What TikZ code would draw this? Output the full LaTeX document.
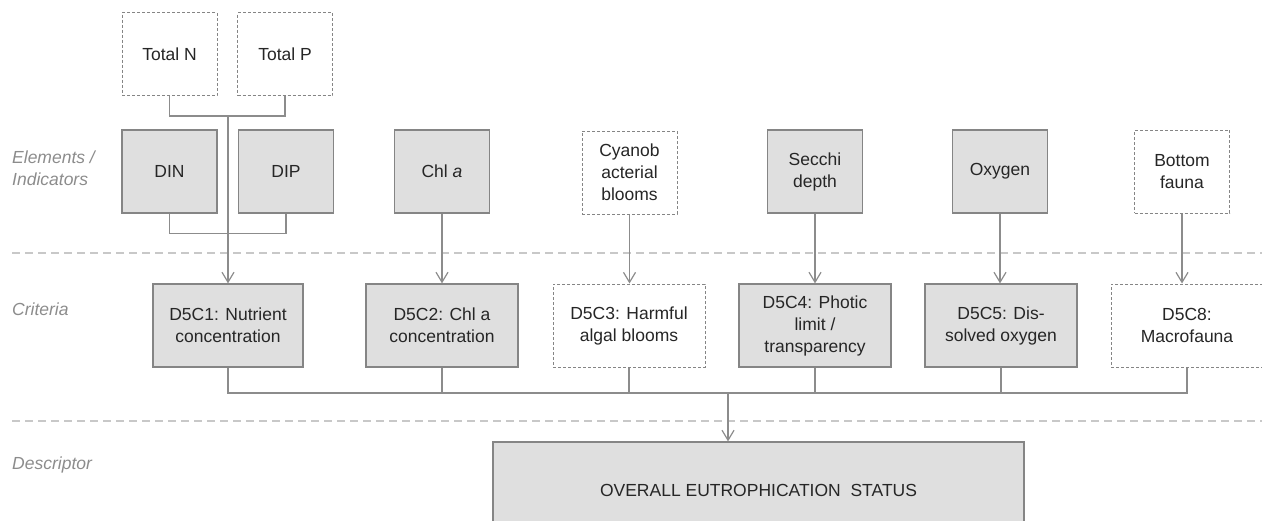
\documentclass[tikz,border=0pt]{standalone}
\usepackage{fontspec}
\setmainfont{Liberation Sans}
\usepackage{tikz}
\usetikzlibrary{arrows.meta}
\tikzset{>={Straight Barb[length=10pt,width=12pt]}}
\definecolor{boxfill}{HTML}{DFDFDF}
\definecolor{boxline}{HTML}{858585}
\definecolor{conn}{HTML}{8C8C8C}
\definecolor{sepline}{HTML}{C8C8C8}
\definecolor{lbltext}{HTML}{8C8C8C}
\definecolor{boxtext}{HTML}{262626}
\newcommand{\diagfont}{\fontsize{17.5}{22}\selectfont}
\tikzset{
  box/.style={draw=boxline, line width=1.2pt, fill=boxfill, text=boxtext,
    align=center, inner sep=0pt, minimum height=83pt},
  optbox/.style={box, fill=white, line width=1pt, dash pattern=on 3pt off 2pt},
  ind/.style={minimum width=95pt},
  crit/.style={minimum width=152pt},
  lbl/.style={text=lbltext, font=\diagfont\itshape, anchor=west, align=left, inner sep=0pt},
  sep/.style={draw=sepline, line width=1.2pt, dash pattern=on 8pt off 5pt},
  link/.style={draw=conn, line width=1.2pt},
}

\begin{document}
\begin{tikzpicture}[x=1pt, y=-1pt, font=\diagfont]
    \useasboundingbox (0,0) rectangle (1262,520);

    \node[lbl] (LBL-EL) at (12,168) {Elements /\\Indicators};
    \node[lbl] (LBL-CR) at (12,309) {Criteria};
    \node[lbl] (LBL-DE) at (12,465) {Descriptor};

    \draw[sep] (12,253) -- (1262,253);
    \draw[sep] (12,421) -- (1262,421);

    \node[optbox, ind] (TOT-N) at (169.5,54) {Total N};
    \node[optbox, ind] (TOT-P) at (285,54) {Total P};
    \node[box, ind] (DIN) at (169.5,171.5) {DIN};
    \node[box, ind] (DIP) at (286,171.5) {DIP};
    \node[box, ind] (CHL) at (442,171.5) {Chl \textit{a}};
    \node[optbox, ind] (CYANO) at (629.5,172.5) {Cyanob\\acterial\\blooms};
    \node[box, ind] (SECCHI) at (815,171.5) {Secchi\\depth};
    \node[box, ind] (OXY) at (1000,171.5) {Oxygen};
    \node[optbox, ind] (FAUNA) at (1182,171.5) {Bottom\\fauna};

    \node[box, crit, minimum width=150pt] (C1) at (228,325.5) {D5C1: Nutrient\\concentration};
    \node[box, crit] (C2) at (442,325.5) {D5C2: Chl a\\concentration};
    \node[optbox, crit] (C3) at (629,325.5) {D5C3: Harmful\\algal blooms};
    \node[box, crit] (C4) at (815,325.5) {D5C4: Photic\\limit /\\transparency};
    \node[box, crit] (C5) at (1001,325.5) {D5C5: Dis-\\solved oxygen};
    \node[optbox, crit] (C8) at (1187,325.5) {D5C8:\\Macrofauna};

    \node[box, minimum width=531pt, minimum height=96pt] (ALL) at (758.5,490) {OVERALL EUTROPHICATION~~STATUS};

    \coordinate (TOP-J) at (228,116);
    \coordinate (BUS) at (728,393);

    \draw[link] (TOT-N.south) |- (TOP-J) -| (TOT-P.south);
    \draw[link] (DIN.south) -- ++(0,20) -| (DIP.south);
    \draw[link, ->] (TOP-J) -- (C1.north);

    \draw[link, ->] (CHL.south) -- (CHL.south |- C2.north);
    \draw[link, ->] (CYANO.south) -- (CYANO.south |- C3.north);
    \draw[link, ->] (SECCHI.south) -- (C4.north);
    \draw[link, ->] (OXY.south) -- (OXY.south |- C5.north);
    \draw[link, ->] (FAUNA.south) -- (FAUNA.south |- C8.north);

    \draw[link] (C1.south) |- (BUS) -| (C8.south);
    \foreach \c in {C2,C3,C4,C5}
      \draw[link] (\c.south) -- (\c.south |- BUS);
    \draw[link, ->] (BUS) -- (BUS |- ALL.north);

  \end{tikzpicture}
\end{document}
